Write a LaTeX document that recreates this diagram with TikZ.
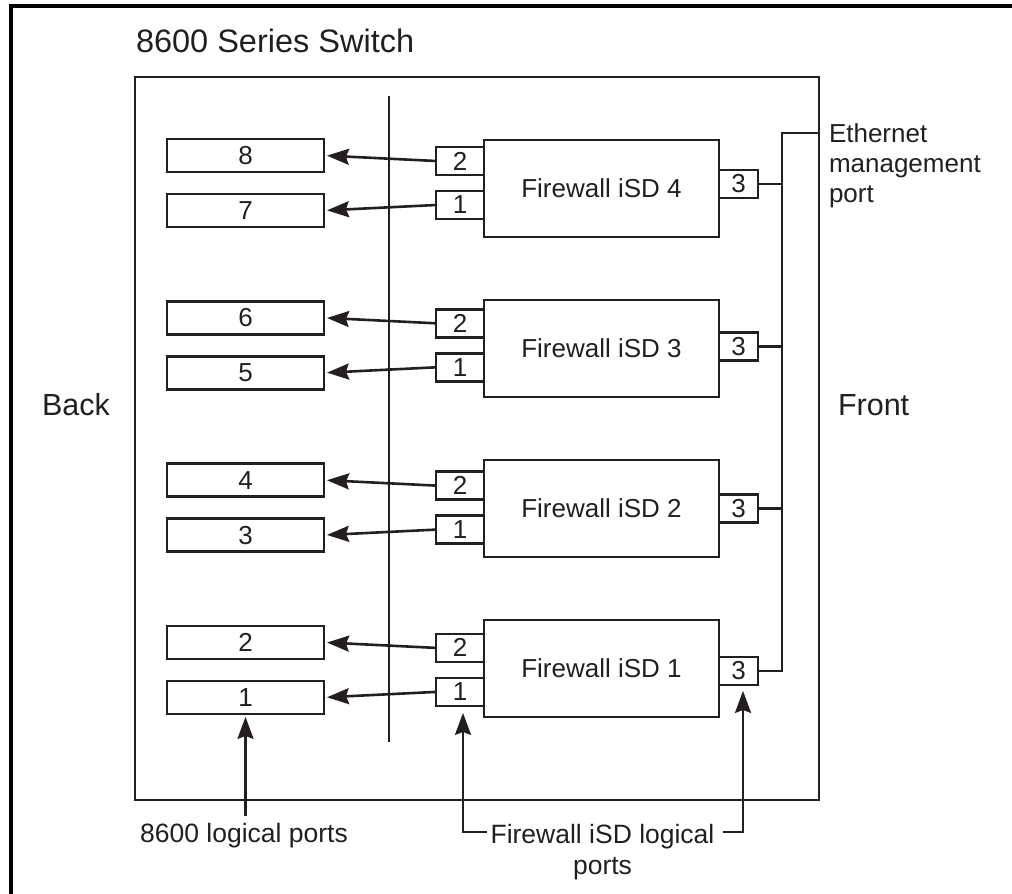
\documentclass[tikz,border=0pt]{standalone}
\usepackage{fontspec}
\setmainfont{Liberation Sans}
\usetikzlibrary{arrows.meta}
\definecolor{ink}{HTML}{231F20}
\begin{document}
\begin{tikzpicture}[x=1pt,y=-1pt,
  every node/.style={inner sep=0pt,outer sep=0pt,text=ink},
  line/.style={draw=ink,line width=2.6pt},
  lbl/.style={font=\fontsize{26.5}{31}\selectfont},
  big/.style={font=\fontsize{30.5}{34}\selectfont},
  lbox/.style={line,minimum width=157pt,minimum height=33pt,font=\fontsize{26}{30}\selectfont},
  pbox/.style={line,fill=white,minimum width=48pt,minimum height=28pt,font=\fontsize{26}{30}\selectfont},
  qbox/.style={line,fill=white,minimum width=39pt,minimum height=28pt,font=\fontsize{26}{30}\selectfont},
  fwbox/.style={line,fill=white,minimum width=235pt,minimum height=97pt,font=\fontsize{26}{30}\selectfont},
  arr/.style={draw=ink,line width=2.6pt,-{Stealth[length=22pt,width=16pt,inset=3pt]}}
  ]
\useasboundingbox (0,0) rectangle (1012,894);
% outer frame (top and left only)
\draw[black,line width=3.5pt] (1012,6) -- (11,6) -- (11,894);
% title
\node[font=\fontsize{32.5}{36}\selectfont,anchor=base west] (title) at (136,52) {8600 Series Switch};
% switch box
\node[draw=ink,line width=2.8pt,minimum width=684pt,minimum height=723pt] (sw) at (477,438.5) {};
% Back / Front
\node[big,anchor=base west] (back) at (42,415) {Back};
\node[big,anchor=base west] (front) at (838,415) {Front};
% divider
\coordinate (dt) at (389,96);
\coordinate (db) at (389,742);
\draw[line] (dt) -- (db);
% groups
\foreach \j in {0,...,3} {
  \pgfmathsetmacro\L{139+162.3*\j}
  \pgfmathtruncatemacro\k{4-\j}
  \pgfmathtruncatemacro\na{8-2*\j}
  \pgfmathtruncatemacro\nb{7-2*\j}
  \node[fwbox] (fw\k) at (601.5,{188.5+160*\j}) {Firewall iSD \k};
  \node[lbox] (lb\na) at (245.5,{\L+16.5}) {\na};
  \node[lbox] (lb\nb) at (245.5,{\L+71.5}) {\nb};
  \node[pbox] (ptwo\k) at (460,{\L+22}) {2};
  \node[pbox] (pone\k) at (460,{\L+66}) {1};
  \node[qbox] (pthree\k) at (738.5,{\L+45}) {3};
  \draw[arr,shorten >=3pt] (ptwo\k.west) -- (lb\na.east);
  \draw[arr,shorten >=3pt] (pone\k.west) -- (lb\nb.east);
}
% ethernet bus
\coordinate (bt) at (782,133);
\draw[line,line join=miter] (sw.east |- bt) -- (bt) -- (bt |- pthree1.east) -- (pthree1.east);
\foreach \k in {2,3,4} {
  \draw[line] (pthree\k.east) -- (bt |- pthree\k.east);
}
\node[font=\fontsize{26}{30}\selectfont,anchor=north west,align=left] (eth) at (829,124) {Ethernet\\management\\port};
% bottom labels
\node[lbl,anchor=base] (lpt) at (244,842) {8600 logical ports};
\coordinate (lp) at (245.5,816);
\draw[arr,shorten >=3pt] (lp) -- (lb1.south);
\node[lbl,anchor=north,align=center] (fwl) at (602.5,824) {Firewall iSD logical\\ports};
\coordinate (cl) at (487,832);
\coordinate (cr) at (723,832);
\draw[arr,line join=miter,shorten >=7pt] (cl) -| ([xshift=3pt]pone1.south);
\draw[arr,line join=miter,shorten >=6pt] (cr) -| ([xshift=4.5pt]pthree1.south);
\end{tikzpicture}
\end{document}
